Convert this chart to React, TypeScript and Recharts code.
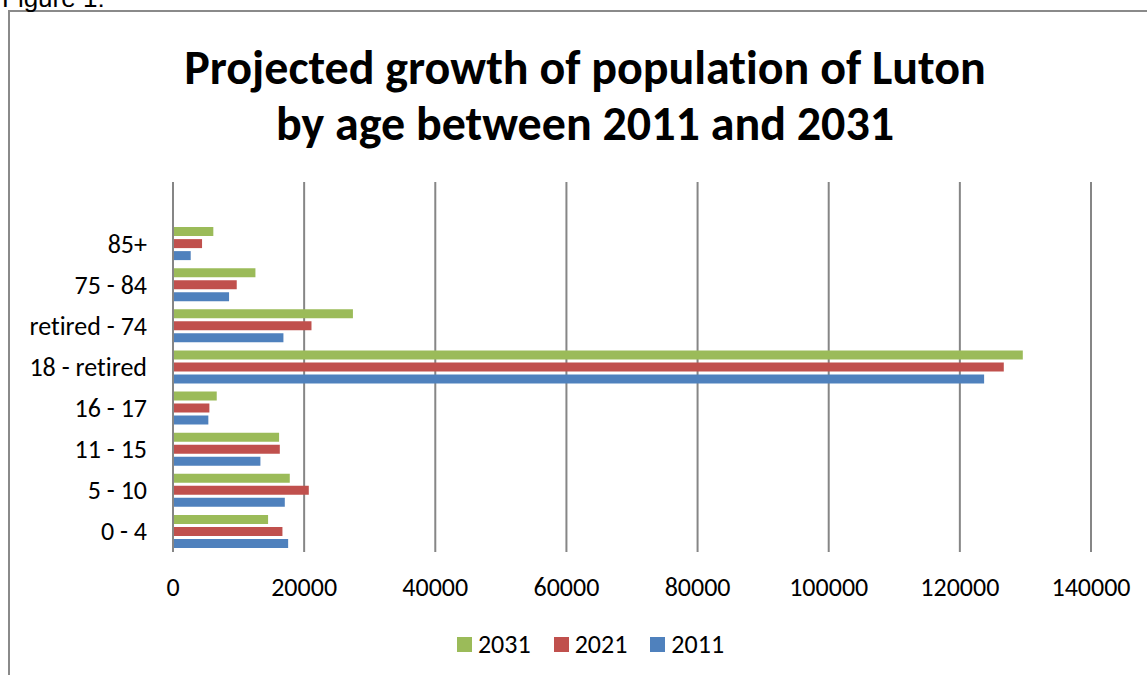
import React from "react";
import { BarChart, Bar, XAxis, YAxis, CartesianGrid, Legend } from "recharts";

const categories = ["0 - 4", "5 - 10", "11 - 15", "16 - 17", "18 - retired", "retired - 74", "75 - 84", "85+", ""];
const pop2011 = [17560, 17050, 13330, 5390, 123700, 16840, 8550, 2700, null];
const pop2021 = [16690, 20710, 16290, 5550, 126700, 21120, 9720, 4430, null];
const pop2031 = [14500, 17810, 16180, 6670, 129600, 27440, 12570, 6150, null];
const xTicks = [0, 20000, 40000, 60000, 80000, 100000, 120000, 140000];
const legendOrder = ["2031", "2021", "2011"];
const titleLines = ["Projected growth of population of Luton", "by age between 2011 and 2031"];

const data = categories.map((c, i) => ({
  category: c,
  y2011: pop2011[i],
  y2021: pop2021[i],
  y2031: pop2031[i],
}));

const FONT = "Calibri, Carlito, Lato, sans-serif";
const NOLIG: React.CSSProperties = { fontVariantLigatures: "none", fontFeatureSettings: '"liga" 0, "clig" 0' };

const XTick = (props: any) => {
  const { x, y, payload } = props;
  return (
    <text x={x} y={y + 35} textAnchor="middle" dominantBaseline="central" fontFamily={FONT} fontSize={26} fill="#000" style={NOLIG}>
      {payload.value}
    </text>
  );
};

const YTick = (props: any) => {
  const { x, y, payload } = props;
  return (
    <text x={x} y={y} textAnchor="end" dominantBaseline="central" fontFamily={FONT} fontSize={26} fill="#000" style={NOLIG}>
      {payload.value}
    </text>
  );
};

const LegendContent = (props: any) => {
  const { payload } = props;
  const items = [...(payload || [])].sort(
    (a: any, b: any) => legendOrder.indexOf(String(a.value)) - legendOrder.indexOf(String(b.value))
  );
  return (
    <div style={{ display: "flex", justifyContent: "center", alignItems: "center", height: 24 }}>
      {items.map((p: any, i: number) => (
        <div key={i} style={{ display: "flex", alignItems: "center", marginLeft: i === 0 ? 0 : 23 }}>
          <div style={{ width: 15, height: 15, background: p.color, marginRight: 6 }} />
          <span style={{ fontFamily: FONT, fontSize: 26, color: "#000", lineHeight: "24px" }}>{p.value}</span>
        </div>
      ))}
    </div>
  );
};

export default function App() {
  return (
    <div style={{ position: "absolute", left: 0, top: 0, width: 1147, height: 675, overflow: "hidden", background: "#fff" }}>
      <div
        style={{
          position: "absolute",
          left: 8,
          top: 10,
          width: 1200,
          height: 800,
          borderLeft: "2px solid #8a8a8a",
          borderTop: "2px solid #8a8a8a",
        }}
      />
      <div style={{ position: "absolute", left: 0, top: 0 }}>
        <BarChart
          width={1147}
          height={675}
          data={data}
          layout="vertical"
          margin={{ top: 182, right: 56, bottom: 88, left: 23 }}
          barSize={9}
          barGap={3}
        >
          <CartesianGrid horizontal={false} stroke="#868686" strokeWidth={2} />
          <XAxis
            type="number"
            domain={[0, 140000]}
            ticks={xTicks}
            axisLine={false}
            tickLine={false}
            tickSize={0}
            tickMargin={0}
            height={35}
            tick={<XTick />}
            interval={0}
          />
          <YAxis
            type="category"
            dataKey="category"
            reversed
            width={150}
            axisLine={{ stroke: "#868686", strokeWidth: 2 }}
            tickLine={false}
            tickSize={0}
            tickMargin={26}
            tick={<YTick />}
            interval={0}
          />
          <Legend
            layout="horizontal"
            verticalAlign="middle"
            align="center"
            content={<LegendContent />}
            wrapperStyle={{ position: "absolute", left: 0, top: 632, width: 1181, height: 24 }}
          />
          <Bar dataKey="y2031" name="2031" fill="#9BBB59" isAnimationActive={false} />
          <Bar dataKey="y2021" name="2021" fill="#C0504D" isAnimationActive={false} />
          <Bar dataKey="y2011" name="2011" fill="#4F81BD" isAnimationActive={false} />
        </BarChart>
      </div>
      <svg width={1147} height={675} style={{ position: "absolute", left: 0, top: 0, pointerEvents: "none" }}>
        <text x={2} y={7} fontFamily="'Liberation Sans', Arial, sans-serif" fontSize={26} fill="#000">
          Figure 1:
        </text>
        <text x={585} y={84} textAnchor="middle" fontFamily={FONT} fontWeight="bold" fontSize={48} fill="#000" style={NOLIG}>
          {titleLines[0]}
        </text>
        <text x={585} y={140} textAnchor="middle" fontFamily={FONT} fontWeight="bold" fontSize={48} fill="#000" style={NOLIG}>
          {titleLines[1]}
        </text>
      </svg>
    </div>
  );
}
